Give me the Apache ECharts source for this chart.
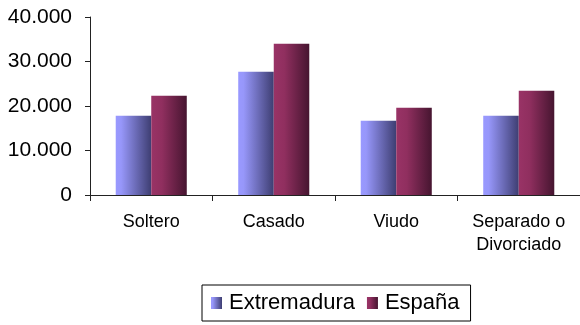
<!DOCTYPE html>
<html>
<head>
<meta charset="utf-8">
<script src="https://cdn.jsdelivr.net/npm/echarts@6/dist/echarts.min.js"></script>
<style>
html,body{margin:0;padding:0;background:#fff;}
#chart{width:580px;height:325px;}
</style>
</head>
<body>
<div id="chart"></div>
<script>
const categories = ['Soltero', 'Casado', 'Viudo', 'Separado o\nDivorciado'];
const extremadura = [17800, 27700, 16700, 17800];
const espana = [22300, 34000, 19600, 23400];
const seriesNames = ['Extremadura', 'España'];
const yTicks = { min: 0, max: 40000, interval: 10000 };

const chart = echarts.init(document.getElementById('chart'));
function grad(stops) {
  return new echarts.graphic.LinearGradient(0, 0, 1, 0, stops);
}
const extColor = grad([
  { offset: 0, color: '#9999ff' },
  { offset: 0.15, color: '#9797fa' },
  { offset: 1, color: '#3e3e72' }
]);
const espColor = grad([
  { offset: 0, color: '#993366' },
  { offset: 0.3, color: '#902f5f' },
  { offset: 1, color: '#461530' }
]);
const font = 'Liberation Sans, Arial, sans-serif';
chart.setOption({
  animation: false,
  grid: { left: 90, right: 0, top: 17, bottom: 130 },
  legend: {
    left: 202, top: 285,
    padding: [7, 11, 7, 9],
    borderColor: '#000', borderWidth: 1,
    itemWidth: 11, itemHeight: 12, itemGap: 12,
    icon: 'rect',
    textStyle: { fontFamily: font, fontSize: 22, color: '#000', lineHeight: 22, padding: [0, 0, 0, 2] },
    data: seriesNames
  },
  xAxis: {
    type: 'category',
    data: categories,
    axisLine: { lineStyle: { color: '#222', width: 1 } },
    axisTick: { show: true, length: 6, lineStyle: { color: '#222' } },
    axisLabel: { fontFamily: font, fontSize: 18, color: '#000', margin: 16, lineHeight: 23, interval: 0 }
  },
  yAxis: {
    type: 'value',
    min: yTicks.min, max: yTicks.max, interval: yTicks.interval,
    splitLine: { show: false },
    axisLine: { show: true, lineStyle: { color: '#222', width: 1 } },
    axisTick: { show: true, length: 5, lineStyle: { color: '#222' } },
    axisLabel: {
      fontFamily: font, fontSize: 21, color: '#000', margin: 18,
      formatter: v => String(v).replace(/\B(?=(\d{3})+(?!\d))/g, '.')
    }
  },
  series: [
    { name: seriesNames[0], type: 'bar', data: extremadura, barGap: '0%', barCategoryGap: '42%', itemStyle: { color: extColor } },
    { name: seriesNames[1], type: 'bar', data: espana, barGap: '0%', barCategoryGap: '42%', itemStyle: { color: espColor } }
  ]
});
</script>
</body>
</html>
